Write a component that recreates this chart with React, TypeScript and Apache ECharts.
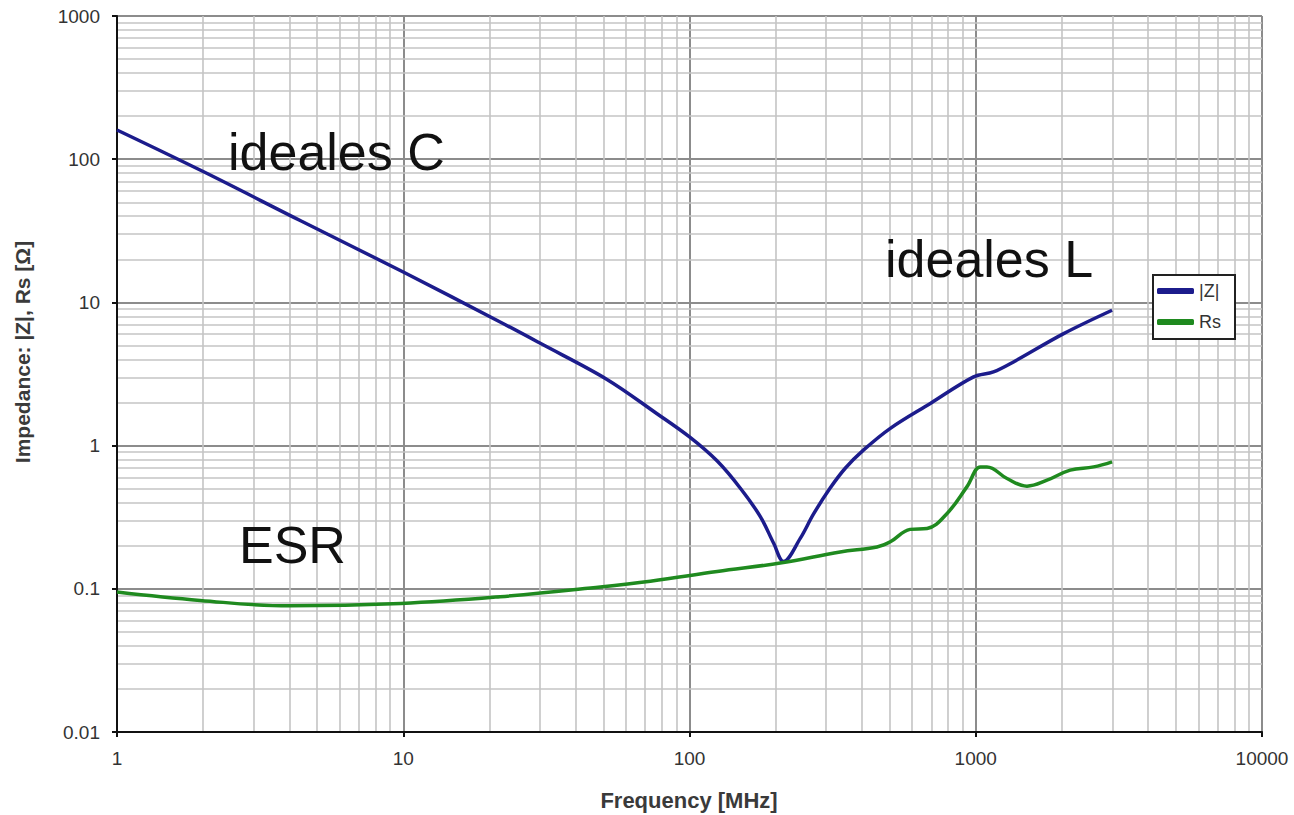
import React, { useEffect, useRef } from "react";
import * as echarts from "echarts";

// |Z| curve (frequency in MHz, impedance in ohm)
const freqZ = [1, 2, 4.4, 10, 21.8, 30, 51.5, 77, 100, 125, 151, 177, 197, 213, 244, 271, 310, 350, 405, 503, 694, 983, 1153, 1355, 2028, 2994];
const impZ = [160, 82, 37, 16.3, 7.3, 5.2, 2.9, 1.67, 1.15, 0.78, 0.5, 0.318, 0.207, 0.155, 0.226, 0.332, 0.505, 0.695, 0.929, 1.32, 1.97, 3.02, 3.27, 3.84, 6.05, 8.81];

// Rs (ESR) curve
const freqRs = [1, 1.95, 4, 9.8, 21.8, 48.8, 73, 125, 210, 336, 452, 503, 590, 676, 794, 931, 1038, 1094, 1286, 1510, 1774, 2138, 2580, 2994];
const rsVals = [0.095, 0.083, 0.076, 0.079, 0.088, 0.103, 0.113, 0.132, 0.152, 0.181, 0.196, 0.213, 0.26, 0.264, 0.336, 0.515, 0.71, 0.71, 0.589, 0.521, 0.573, 0.674, 0.71, 0.77];

const seriesNames = ["|Z|", "Rs"];
const xRange = [1, 10000];
const yRange = [0.01, 1000];

const annotations = [
  { text: "ideales C", x: 228, y: 152 },
  { text: "ideales L", x: 885, y: 259 },
  { text: "ESR", x: 239, y: 545 },
];

const FONT = '"Liberation Sans", Arial, Helvetica, sans-serif';

function minorValues(lo: number, hi: number): number[] {
  const out: number[] = [];
  for (let d = lo; d < hi; d *= 10) {
    for (let k = 2; k <= 9; k++) out.push(+(d * k).toPrecision(6));
  }
  return out;
}

export default function App() {
  const ref = useRef<HTMLDivElement>(null);

  useEffect(() => {
    if (!ref.current) return;
    const chart = echarts.init(ref.current, null, { renderer: "svg" });

    const minorLines = [
      ...minorValues(xRange[0], xRange[1]).map((v) => ({ xAxis: v })),
      ...minorValues(yRange[0], yRange[1]).map((v) => ({ yAxis: v })),
    ];

    const fmt = (v: number) => String(+Number(v).toPrecision(6));

    const axisCommon = {
      type: "log",
      logBase: 10,
      axisLine: { show: true, onZero: false, lineStyle: { color: "#111", width: 2 } },
      axisTick: { show: true, length: 5, lineStyle: { color: "#111", width: 2 } },
      axisLabel: { fontSize: 19, color: "#333", margin: 17, fontFamily: FONT, formatter: fmt },
      splitLine: { show: true, lineStyle: { color: "#8c8c8c", width: 2 } },
      minorTick: { show: false },
      minorSplitLine: { show: false },
    };

    chart.setOption({
      animation: false,
      backgroundColor: "#ffffff",
      textStyle: { fontFamily: FONT },
      grid: { left: 117, right: 32, top: 16, bottom: 83, containLabel: false },
      legend: {
        data: seriesNames,
        orient: "vertical",
        left: 1153,
        top: 275,
        z: 20,
        backgroundColor: "#ffffff",
        borderColor: "#222",
        borderWidth: 2,
        borderRadius: 0,
        padding: [7, 14, 8, 4],
        itemGap: 13,
        itemWidth: 37,
        itemHeight: 6,
        icon: "roundRect",
        textStyle: { fontSize: 18, color: "#333", fontFamily: FONT },
      },
      xAxis: { ...axisCommon, min: xRange[0], max: xRange[1] },
      yAxis: { ...axisCommon, min: yRange[0], max: yRange[1] },
      graphic: [
        ...annotations.map((a) => ({
          type: "text",
          x: a.x,
          y: a.y,
          z: 10,
          style: {
            text: a.text,
            fontSize: 52,
            fontFamily: FONT,
            fill: "#111",
            align: "left",
            verticalAlign: "middle",
          },
        })),
        {
          type: "text",
          x: 22,
          y: 352,
          rotation: Math.PI / 2,
          style: {
            text: "Impedance: |Z|, Rs [Ω]",
            fontSize: 21,
            fontWeight: "bold",
            fontFamily: FONT,
            fill: "#3a3a3a",
            align: "center",
            verticalAlign: "middle",
          },
        },
        {
          type: "text",
          x: 689,
          y: 800,
          style: {
            text: "Frequency [MHz]",
            fontSize: 22,
            fontWeight: "bold",
            fontFamily: FONT,
            fill: "#3a3a3a",
            align: "center",
            verticalAlign: "middle",
          },
        },
      ],
      series: [
        {
          name: "minor-grid",
          type: "line",
          data: [],
          z: 0,
          silent: true,
          markLine: {
            z: 0,
            silent: true,
            symbol: ["none", "none"],
            label: { show: false },
            emphasis: { disabled: true },
            lineStyle: { type: "solid", color: "#c4c4c4", width: 1.6 },
            data: minorLines,
          },
        },
        {
          name: seriesNames[0],
          type: "line",
          z: 6,
          data: freqZ.map((f, i) => [f, impZ[i]]),
          showSymbol: false,
          symbol: "none",
          smooth: 0.35,
          color: "#1c1c8c",
          lineStyle: { color: "#1c1c8c", width: 3.5 },
        },
        {
          name: seriesNames[1],
          type: "line",
          z: 6,
          data: freqRs.map((f, i) => [f, rsVals[i]]),
          showSymbol: false,
          symbol: "none",
          smooth: 0.4,
          color: "#1f8a1f",
          lineStyle: { color: "#1f8a1f", width: 3.5 },
        },
      ],
    });

    return () => chart.dispose();
  }, []);

  return (
    <div
      ref={ref}
      style={{ position: "absolute", left: 0, top: 0, width: 1294, height: 815 }}
    />
  );
}
